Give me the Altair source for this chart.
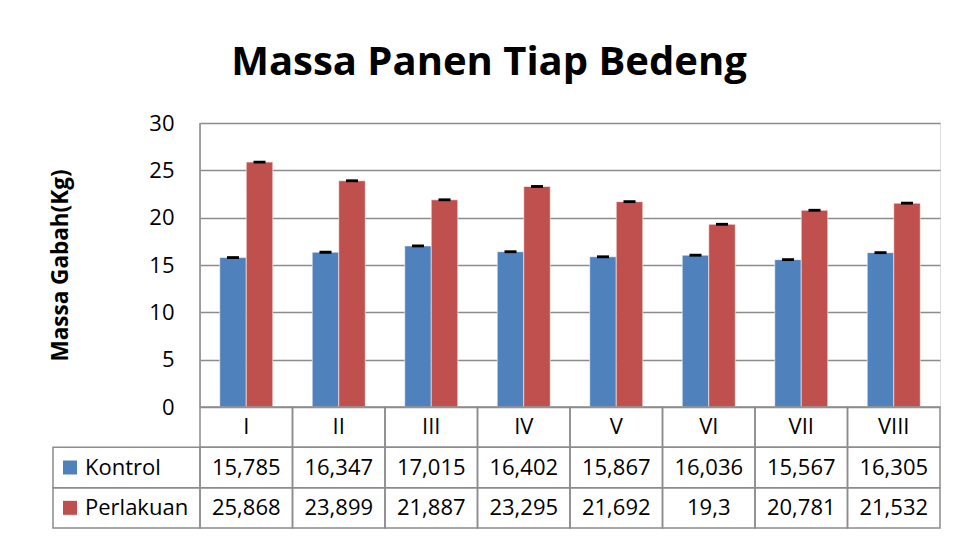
import altair as alt
import pandas as pd

categories = ["I", "II", "III", "IV", "V", "VI", "VII", "VIII"]
series = ["Kontrol", "Perlakuan"]
kontrol = [15.785, 16.347, 17.015, 16.402, 15.867, 16.036, 15.567, 16.305]
perlakuan = [25.868, 23.899, 21.887, 23.295, 21.692, 19.3, 20.781, 21.532]
err_kontrol = [0.15, 0.15, 0.15, 0.15, 0.15, 0.15, 0.15, 0.15]
err_perlakuan = [0.15, 0.15, 0.15, 0.15, 0.15, 0.15, 0.15, 0.15]
y_ticks = [0, 5, 10, 15, 20, 25, 30]
colors = ["#4F81BD", "#C0504D"]

FONT = "Open Sans"
GRID = "#8c8c8c"
W, H = 740, 284
PX_PER_UNIT_X = W / len(categories)
PX_PER_UNIT_Y = H / 30.0
LEG = -147 / PX_PER_UNIT_X          # legend column width in x units
ROW = (121 / 3) / PX_PER_UNIT_Y     # table row height in y units
YTITLE = "Massa Gabah(Kg)"

rows = []
for si, (s, vals, errs) in enumerate(zip(series, [kontrol, perlakuan], [err_kontrol, err_perlakuan])):
    for i, (c, v, e) in enumerate(zip(categories, vals, errs)):
        rows.append({"series": s, "si": si, "idx": i, "category": c, "value": v,
                     "err": e, "label": ("%g" % v).replace(".", ",")})
df = pd.DataFrame(rows)
cat_df = pd.DataFrame({"idx": list(range(len(categories))), "category": categories})
ser_df = pd.DataFrame({"series": series, "si": [0, 1]})
axis_df = pd.DataFrame({"x": [0], "lo": [min(y_ticks)], "hi": [max(y_ticks)]})

xs = alt.Scale(domain=[0, len(categories)], nice=False, zero=False)
ys = alt.Scale(domain=[0, 30], nice=False, zero=False)
col = alt.Color("series:N", scale=alt.Scale(domain=series, range=colors), legend=None)

MAIN_AXIS = alt.Axis(orient="left", values=y_ticks, title=YTITLE, grid=True, labels=True,
                     domain=False, titleOpacity=1,
                     gridColor=GRID, gridWidth=1.6,
                     ticks=False, labelFont=FONT, labelFontSize=22, labelColor="black",
                     labelPadding=26, titleFont=FONT, titleFontSize=22.5,
                     titleFontWeight="bold", titleColor="black",
                     titleX=-140, titleY=H / 2, titleBaseline="middle")
BLANK_AXIS = alt.Axis(orient="left", values=y_ticks, title=YTITLE, grid=False, labels=False,
                      domain=False, ticks=False, titleOpacity=0)


def X(f):
    return alt.X(f, scale=xs, axis=None)


def Y(f, axis=BLANK_AXIS):
    return alt.Y(f, scale=ys, axis=axis, title=YTITLE)


bars = alt.Chart(df).transform_calculate(
    x0="datum.idx + 0.2135 + datum.si * 0.2865",
    x1="datum.idx + 0.5 + datum.si * 0.2865",
    base="0",
).mark_bar(stroke="#ffffff", strokeOpacity=0.55, strokeWidth=1).encode(
    x=X("x0:Q"), x2="x1:Q",
    y=Y("value:Q", MAIN_AXIS), y2="base:Q",
    color=col,
)

# y axis line (value-axis spine)
spine = alt.Chart(axis_df).mark_rule(color=GRID, strokeWidth=1.6).encode(
    x=X("x:Q"), y=Y("lo:Q"), y2="hi:Q",
)

errs = alt.Chart(df).transform_calculate(
    x0="datum.idx + 0.3568 + datum.si * 0.2865 - 0.065",
    x1="datum.idx + 0.3568 + datum.si * 0.2865 + 0.065",
    lo="datum.value - datum.err",
    hi="datum.value + datum.err",
).mark_rect(color="black").encode(
    x=X("x0:Q"), x2="x1:Q",
    y=Y("lo:Q"), y2="hi:Q",
)

# table: header cells
head_cells = alt.Chart(cat_df).transform_calculate(
    x1="datum.idx + 1", y0="0", y1=str(-ROW), ym=str(-ROW / 2), xm="datum.idx + 0.5"
)
head_rect = head_cells.mark_rect(fill="white", fillOpacity=0, stroke=GRID, strokeWidth=1.5).encode(
    x=X("idx:Q"), x2="x1:Q", y=Y("y0:Q"), y2="y1:Q",
)
head_text = head_cells.mark_text(font=FONT, fontSize=22, color="black", baseline="middle").encode(
    x=X("xm:Q"), y=Y("ym:Q"), text="category:N",
)

# value cells
val_cells = alt.Chart(df).transform_calculate(
    x1="datum.idx + 1",
    y0=f"-{ROW} * (datum.si + 1)",
    y1=f"-{ROW} * (datum.si + 2)",
    ym=f"-{ROW} * (datum.si + 1.5)",
    xm="datum.idx + 0.5",
)
val_rect = val_cells.mark_rect(fill="white", fillOpacity=0, stroke=GRID, strokeWidth=1.5).encode(
    x=X("idx:Q"), x2="x1:Q", y=Y("y0:Q"), y2="y1:Q",
)
val_text = val_cells.mark_text(font=FONT, fontSize=22, color="black", baseline="middle").encode(
    x=X("xm:Q"), y=Y("ym:Q"), text="label:N",
)

# legend column
leg_cells = alt.Chart(ser_df).transform_calculate(
    xl=str(LEG), xr="0",
    y0=f"-{ROW} * (datum.si + 1)",
    y1=f"-{ROW} * (datum.si + 2)",
    ym=f"-{ROW} * (datum.si + 1.5)",
    xsq=str(LEG + 17 / PX_PER_UNIT_X),
    xtx=str(LEG + 32 / PX_PER_UNIT_X),
)
leg_rect = leg_cells.mark_rect(fill="white", fillOpacity=0, stroke=GRID, strokeWidth=1.5).encode(
    x=X("xl:Q"), x2="xr:Q", y=Y("y0:Q"), y2="y1:Q",
)
leg_sq = leg_cells.mark_square(size=196, opacity=1).encode(
    x=X("xsq:Q"), y=Y("ym:Q"), color=col,
)
leg_text = leg_cells.mark_text(font=FONT, fontSize=22, color="black", baseline="middle", align="left").encode(
    x=X("xtx:Q"), y=Y("ym:Q"), text="series:N",
)

chart = alt.layer(
    bars, spine, errs, head_rect, head_text, val_rect, val_text, leg_rect, leg_sq, leg_text
).properties(
    width=W, height=H,
    title=alt.TitleParams("Massa Panen Tiap Bedeng", font=FONT, fontSize=40, fontWeight="bold",
                          color="black", anchor="middle", dx=-81, offset=29),
    autosize=alt.AutoSizeParams(type="none"),
    padding={"left": 192, "top": 115, "right": 10, "bottom": 122},
).configure_view(
    stroke="transparent", strokeWidth=0
).configure_axis(
    domain=False, ticks=False
).configure_axisRight(
    domainOpacity=0, labelOpacity=0, gridOpacity=0, titleOpacity=0, tickOpacity=0
).configure(background="white")

chart.save("out.html", embed_options={"renderer": "svg", "actions": False})
